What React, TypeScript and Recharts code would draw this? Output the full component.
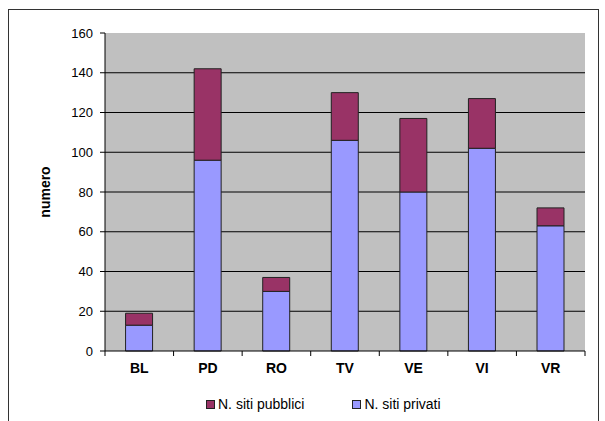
import { BarChart, Bar, XAxis, YAxis, CartesianGrid } from 'recharts';

const provinces = ['BL', 'PD', 'RO', 'TV', 'VE', 'VI', 'VR'];
const sitiPrivati = [13, 96, 30, 106, 80, 102, 63];
const sitiPubblici = [6, 46, 7, 24, 37, 25, 9];
const yTicks = [0, 20, 40, 60, 80, 100, 120, 140, 160];
const gridValues = [20, 40, 60, 80, 100, 120, 140];

const series = [
  { key: 'pubblici', name: 'N. siti pubblici', color: '#993366' },
  { key: 'privati', name: 'N. siti privati', color: '#9999FF' },
];

const data = provinces.map((p, i) => ({
  name: p,
  privati: sitiPrivati[i],
  pubblici: sitiPubblici[i],
}));

const FONT = 'Arial, "Liberation Sans", sans-serif';
const HALF_BAND = 480 / 7 / 2;

const CategoryTick = (props: any) => {
  const { x, y, payload, index } = props;
  const axisY = y - 7;
  return (
    <g>
      <line x1={x - HALF_BAND} y1={axisY} x2={x - HALF_BAND} y2={axisY + 5} stroke="#000" />
      {index === provinces.length - 1 && (
        <line x1={x + HALF_BAND} y1={axisY} x2={x + HALF_BAND} y2={axisY + 5} stroke="#000" />
      )}
      <text x={x} y={y + 15} textAnchor="middle" fontFamily={FONT} fontSize={14} fontWeight="bold" fill="#000">
        {payload.value}
      </text>
    </g>
  );
};

// legend drawn as html under the chart, same order as the original
const LegendBox = () => (
  <div
    style={{
      position: 'absolute',
      left: 206,
      top: 396,
      display: 'flex',
      fontFamily: FONT,
      fontSize: 14,
      color: '#000',
    }}
  >
    {series.map((s, i) => (
      <div key={s.key} style={{ display: 'flex', alignItems: 'center', marginRight: i === 0 ? 48 : 0 }}>
        <span
          style={{
            display: 'inline-block',
            width: 7,
            height: 7,
            background: s.color,
            border: '1px solid #222',
            marginRight: 3,
          }}
        />
        <span>{s.name}</span>
      </div>
    ))}
  </div>
);

export default function App() {
  return (
    <div style={{ position: 'absolute', left: 0, top: 0, width: 605, height: 421, background: '#fff', overflow: 'hidden' }}>
      <div
        style={{
          position: 'absolute',
          left: 8,
          top: 9,
          width: 589,
          height: 412,
          border: '1px solid #333',
          borderBottom: 'none',
        }}
      />
      <BarChart
        width={605}
        height={421}
        data={data}
        margin={{ top: 33, right: 20, bottom: 40, left: 0 }}
        barCategoryGap="30%"
      >
        <CartesianGrid
          fill="#C0C0C0"
          stroke="#000"
          vertical={false}
          horizontalValues={gridValues}
        />
        <XAxis
          dataKey="name"
          height={30}
          axisLine={{ stroke: '#000' }}
          tickLine={false}
          tickSize={5}
          tickMargin={2}
          interval={0}
          tick={<CategoryTick />}
        />
        <YAxis
          width={105}
          domain={[0, 160]}
          ticks={yTicks}
          interval={0}
          axisLine={{ stroke: '#000' }}
          tickLine={{ stroke: '#000' }}
          tickSize={5}
          tickMargin={7}
          tick={{ fill: '#000', fontSize: 13, fontFamily: FONT }}
          label={{
            content: ({ viewBox }: any) => {
              const cx = 45;
              const cy = viewBox.y + viewBox.height / 2;
              return (
                <text
                  x={cx}
                  y={cy}
                  transform={`rotate(-90, ${cx}, ${cy})`}
                  textAnchor="middle"
                  dominantBaseline="central"
                  fontFamily={FONT}
                  fontSize={14}
                  fontWeight="bold"
                  fill="#000"
                >
                  numero
                </text>
              );
            },
          }}
        />
        <Bar dataKey="privati" name="N. siti privati" stackId="a" fill="#9999FF" stroke="#222" strokeWidth={1} isAnimationActive={false} />
        <Bar dataKey="pubblici" name="N. siti pubblici" stackId="a" fill="#993366" stroke="#222" strokeWidth={1} isAnimationActive={false} />
      </BarChart>
      <LegendBox />
    </div>
  );
}
